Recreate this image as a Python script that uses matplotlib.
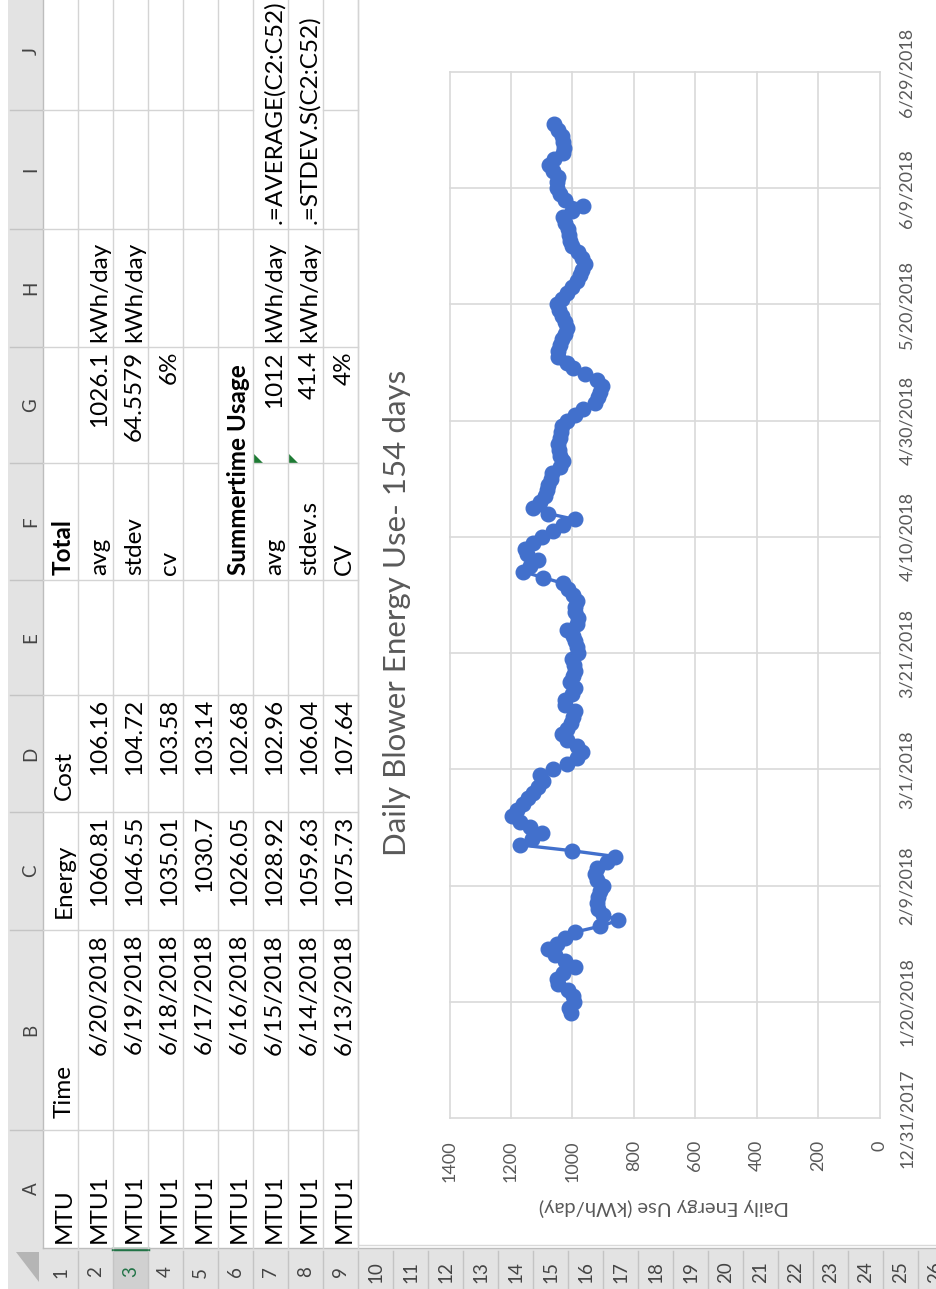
import matplotlib
matplotlib.use("Agg")
import matplotlib.pyplot as plt
import pandas as pd
from matplotlib.patches import Rectangle, Polygon

plt.rcParams['font.family'] = ['Lato', 'DejaVu Sans']

# ---- sheet contents -------------------------------------------------------
col_letters = ["A", "B", "C", "D", "E", "F", "G", "H", "I", "J"]
header_row = ["MTU", "Time", "Energy", "Cost"]
mtu_ids = ["MTU1"] * 8
times = ["6/20/2018", "6/19/2018", "6/18/2018", "6/17/2018",
         "6/16/2018", "6/15/2018", "6/14/2018", "6/13/2018"]
table_energy = [1060.81, 1046.55, 1035.01, 1030.7, 1026.05, 1028.92, 1059.63, 1075.73]
table_cost = [106.16, 104.72, 103.58, 103.14, 102.68, 102.96, 106.04, 107.64]

# summary block (row, column, text, bold, right aligned)
summary_cells = [
    (1, "F", "Total", True, False),
    (2, "F", "avg", False, False), (2, "G", "1026.1", False, True), (2, "H", "kWh/day", False, False),
    (3, "F", "stdev", False, False), (3, "G", "64.5579", False, True), (3, "H", "kWh/day", False, False),
    (4, "F", "cv", False, False), (4, "G", "6%", False, True),
    (6, "F", "Summertime Usage", True, False),
    (7, "F", "avg", False, False), (7, "G", "1012", False, True), (7, "H", "kWh/day", False, False),
    (7, "I", ".=AVERAGE(C2:C52)", False, False),
    (8, "F", "stdev.s", False, False), (8, "G", "41.4", False, True), (8, "H", "kWh/day", False, False),
    (8, "I", ".=STDEV.S(C2:C52)", False, False),
    (9, "F", "CV", False, False), (9, "G", "4%", False, True),
]

# ---- chart data: daily blower energy (kWh/day) -----------------------------
first_day = "2018-01-18"
energy_readings = [
    1005, 1010, 995, 997, 1013, 1046, 1051, 1030, 991, 1024,
    1057, 1078, 1051, 1024, 991, 910, 850, 900, 917, 921,
    917, 910, 900, 921, 925, 921, 888, 861, 1002, 1171,
    1133, 1100, 1138, 1171, 1198, 1181, 1160, 1144, 1127, 1111,
    1095, 1106, 1062, 1019, 986, 970, 986, 1019, 1035, 1019,
    1005, 997, 991, 1024, 1024, 1002, 991, 1008, 997, 991,
    995, 1002, 981, 985, 991, 997, 1019, 986, 981, 990,
    991, 986, 997, 1013, 1030, 1095, 1160, 1138, 1111, 1149,
    1154, 1127, 1100, 1062, 1030, 991, 1078, 1127, 1106, 1090,
    1084, 1078, 1070, 1067, 1040, 1030, 1040, 1044, 1046, 1040,
    1038, 1035, 1019, 991, 964, 926, 915, 910, 905, 921,
    959, 997, 1019, 1046, 1046, 1040, 1035, 1024, 1019, 1025,
    1035, 1045, 1051, 1035, 1019, 1002, 986, 975, 970, 959,
    970, 981, 1002, 1008, 1010, 1013, 1024, 1030, 1002, 964,
    1024, 1040, 1051, 1051, 1046, 1062,
]
# last week comes straight from the table (listed newest first)
energy = energy_readings + table_energy[::-1]
dates = pd.date_range(first_day, periods=len(energy), freq="D")

chart_title = "Daily Blower Energy Use- 154 days"
value_title = "Daily Energy Use (kWh/day)"
energy_ticks = [0, 200, 400, 600, 800, 1000, 1200, 1400]
date_ticks = pd.date_range("2017-12-31", periods=10, freq="20D")

# ---- layout (pixels) -------------------------------------------------------
W, H = 936, 1289
row_h = 35
x0 = 43            # right edge of the column-letter strip
y_head = 1248      # top edge of the row-number strip
col_top = [1130, 930, 812, 695, 580, 463, 347, 229, 110, -8]
col_bot = [1248, 1130, 930, 812, 695, 580, 463, 347, 229, 110]
grid_c = "#d4d4d4"
head_c = "#e3e3e3"
txt_c = "#595959"
blue = "#4270cc"

fig = plt.figure(figsize=(W / 100, H / 100), dpi=100)
sheet = fig.add_axes([0, 0, 1, 1])
sheet.set_xlim(0, W)
sheet.set_ylim(H, 0)
sheet.axis("off")


def row_right(r):
    return x0 + row_h * r


def cell_text(r, col, s, bold=False, right=False, pad=5):
    i = col_letters.index(col)
    if right:
        y, va = col_top[i] + 4, "top"
    else:
        y, va = col_bot[i] - pad, "bottom"
    sheet.text(row_right(r) - 3, y, s, rotation=90, ha="right", va=va,
               fontsize=17.5, color="black", fontweight="bold" if bold else "normal")


# headers
sheet.add_patch(Rectangle((8, 0), x0 - 8, y_head, fc=head_c, ec="none"))
sheet.add_patch(Rectangle((x0, y_head), W - x0, H - y_head, fc=head_c, ec="none"))
sheet.add_patch(Rectangle((8, y_head), x0 - 8, H - y_head, fc=head_c, ec="none"))
sheet.add_patch(Polygon([(16, 1252), (39, 1252), (39, 1282)], closed=True, fc="#b5b5b5", ec="none"))
# selected row 3
sheet.add_patch(Rectangle((row_right(2), y_head), row_h, H - y_head, fc="#d0d0d0", ec="none"))
sheet.plot([row_right(2), row_right(3)], [y_head + 1, y_head + 1], color="#217346", lw=2.5)

for i, c in enumerate(col_letters):
    sheet.text(31, (col_top[i] + col_bot[i]) / 2, c, rotation=90, ha="center", va="center",
               fontsize=13.5, color="#444444")
    sheet.plot([10, x0], [col_top[i], col_top[i]], color="#c4c4c4", lw=1)
for r in range(1, 27):
    sheet.text(row_right(r) - row_h / 2, 1272, str(r), rotation=90, ha="center", va="center",
               fontsize=13.5, color="#217346" if r == 3 else "#444444")
    sheet.plot([row_right(r), row_right(r)], [y_head + 3, H], color="#c4c4c4", lw=1)
sheet.plot([x0, x0], [0, y_head], color="#bdbdbd", lw=1)
sheet.plot([x0, W], [y_head, y_head], color="#bdbdbd", lw=1)

# cell grid, leaving gaps where text spills into the next cell
spill = {(6, 463), (7, 110), (8, 110)}
for r in range(1, 10):
    sheet.plot([row_right(r), row_right(r)], [0, y_head], color=grid_c, lw=1)
    for e in col_top[:-1]:
        if (r, e) not in spill:
            sheet.plot([row_right(r - 1), row_right(r)], [e, e], color=grid_c, lw=1)

# error flags on G7 and G8
for r in (7, 8):
    xl = row_right(r - 1)
    sheet.add_patch(Polygon([(xl, 463), (xl + 10, 463), (xl, 453)], closed=True,
                            fc="#1e7b34", ec="none"))

# table text
cell_text(1, "A", header_row[0])
for col, s in zip(["B", "C", "D"], header_row[1:]):
    cell_text(1, col, s, pad=12)
for k in range(8):
    r = k + 2
    cell_text(r, "A", mtu_ids[k])
    cell_text(r, "B", times[k], right=True)
    cell_text(r, "C", f"{table_energy[k]:g}", right=True)
    cell_text(r, "D", f"{table_cost[k]:g}", right=True)
for r, col, s, bold, right in summary_cells:
    cell_text(r, col, s, bold=bold, right=right)

# ---- chart object ----------------------------------------------------------
sheet.add_patch(Rectangle((358, -2), W - 356, 1247, fc="white", ec="#d9d9d9", lw=1))
sheet.text(397, 613, chart_title, rotation=90, ha="center", va="center",
           fontsize=22.5, color=txt_c)
sheet.text(664, 1207, value_title, rotation=180, ha="center", va="center",
           fontsize=14.5, color=txt_c)

ax = fig.add_axes([449.5 / W, 1 - 1118 / H, 430 / W, 1046 / H])
ax.set_facecolor("none")
ax.plot(energy, dates, color=blue, lw=2.4, marker="o", ms=10.5, mfc=blue, mec=blue, zorder=3)
ax.set_xlim(1400, 0)
ax.set_ylim(date_ticks[0], date_ticks[-1])
ax.set_xticks(energy_ticks, labels=[str(v) for v in energy_ticks],
              rotation=90, ha="center", va="top")
ax.yaxis.tick_right()
ax.set_yticks(date_ticks, labels=[f"{d.month}/{d.day}/{d.year}" for d in date_ticks],
              rotation=90, ha="left", va="center")
ax.tick_params(length=0, labelsize=13, labelcolor=txt_c)
ax.tick_params(axis="x", pad=16)
ax.tick_params(axis="y", pad=14)
ax.grid(True, color="#d9d9d9", lw=1.2)
ax.set_axisbelow(True)
for s in ax.spines.values():
    s.set_visible(False)
for gl in ax.get_xgridlines() + ax.get_ygridlines():
    gl.set_clip_on(False)

fig.savefig("out.png", dpi=100)
